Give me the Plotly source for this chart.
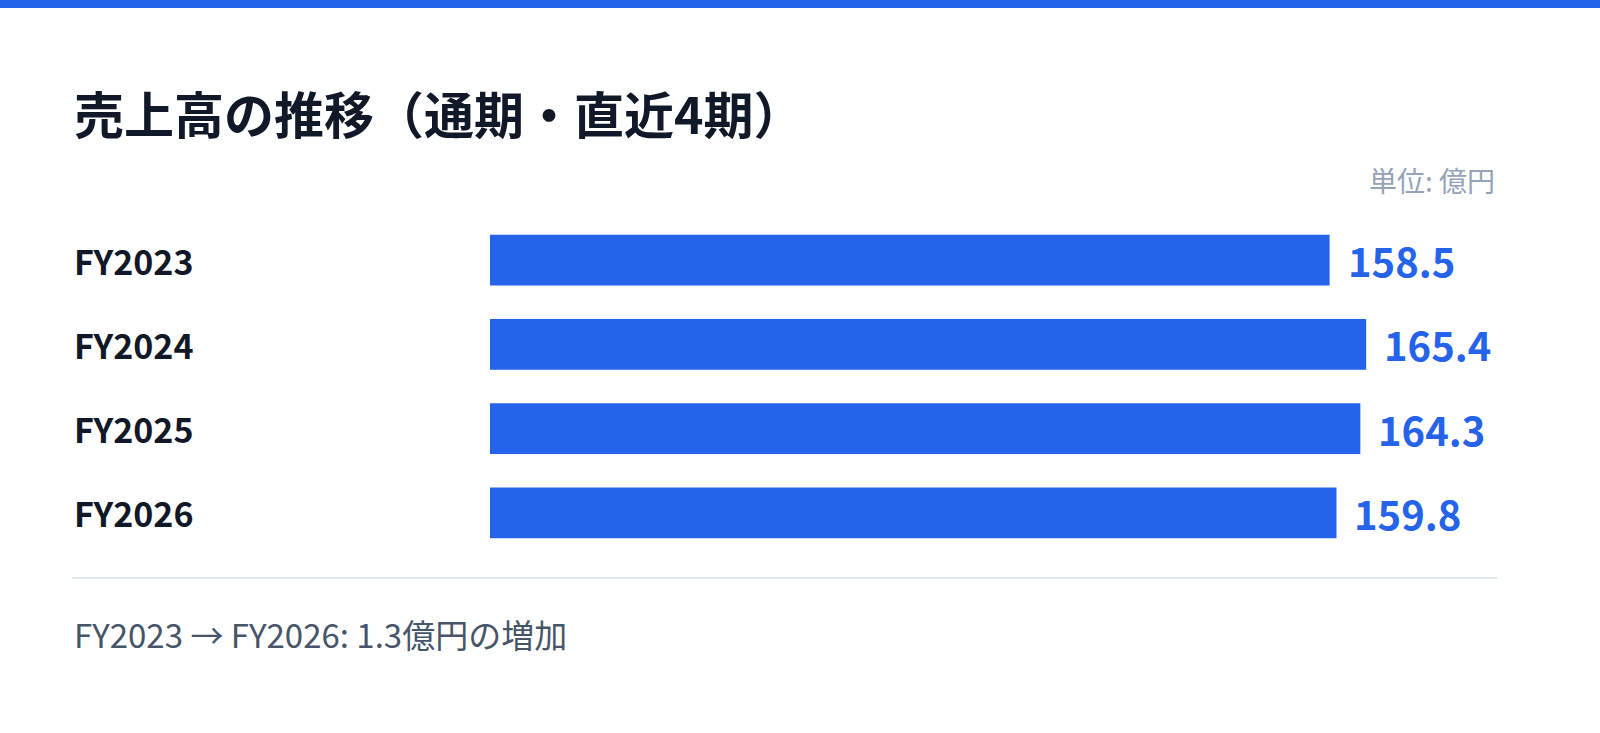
import plotly.graph_objects as go

# data
periods = ["FY2023", "FY2024", "FY2025", "FY2026"]
sales = [158.5, 165.4, 164.3, 159.8]
title_text = "売上高の推移（通期・直近4期）"
unit_text = "単位: 億円"
footer_text = "FY2023 → FY2026: 1.3億円の増加"

blue = "#2563eb"
dark = "#111827"
font_main = "Noto Sans CJK JP"

fig = go.Figure(go.Bar(
    x=sales,
    y=periods,
    orientation="h",
    marker=dict(color=blue, line=dict(width=0)),
    hoverinfo="skip",
))

# period labels on the left, value labels after each bar
annotations = []
for p, v in zip(periods, sales):
    annotations.append(dict(x=-0.415, xref="paper", y=p, yref="y", text="<b>%s</b>" % p,
                            showarrow=False, xanchor="left", yanchor="middle",
                            font=dict(family=font_main, size=34, color=dark)))
    annotations.append(dict(x=v, xref="x", y=p, yref="y", text="<b>%.1f</b>" % v,
                            showarrow=False, xanchor="left", yanchor="middle", xshift=16,
                            font=dict(family=font_main, size=40, color=blue)))

annotations += [
    dict(x=-0.415, xref="paper", y=1.0, yref="paper", yanchor="middle", yshift=218 - 112,
         text="<b>%s</b>" % title_text, showarrow=False, xanchor="left",
         font=dict(family=font_main, size=50, color=dark)),
    dict(x=1.0, xref="paper", y=1.0, yref="paper", yanchor="middle", yshift=38, text=unit_text,
         showarrow=False, xanchor="right", font=dict(family=font_main, size=28, color="#94a3b8")),
    dict(x=-0.415, xref="paper", y=0, yref="paper", yanchor="middle", yshift=-79, text=footer_text,
         showarrow=False, xanchor="left", font=dict(family=font_main, size=33, color="#475569")),
]

plot_h = 733 - 218 - 178
fig.update_layout(
    width=1600, height=733,
    margin=dict(l=490, r=103, t=218, b=178),
    paper_bgcolor="white", plot_bgcolor="white",
    bargap=0.395,
    showlegend=False,
    xaxis=dict(range=[0, 190.1], visible=False, fixedrange=True),
    yaxis=dict(autorange="reversed", visible=False, fixedrange=True),
    annotations=annotations,
    shapes=[
        # top accent strip
        dict(type="rect", xref="paper", yref="paper", x0=-0.5, x1=1.2,
             y0=1 + (218 - 8) / plot_h, y1=1 + 218 / plot_h,
             line=dict(width=0), fillcolor=blue, layer="above"),
        # divider under the bars
        dict(type="line", xref="paper", yref="paper", x0=-0.415, x1=1.0,
             y0=-(578 - 555) / plot_h, y1=-(578 - 555) / plot_h,
             line=dict(color="#e2e8f0", width=2)),
    ],
)

fig.write_html("out.html", config={"displayModeBar": False},
               post_script="document.body.style.margin='0';")
